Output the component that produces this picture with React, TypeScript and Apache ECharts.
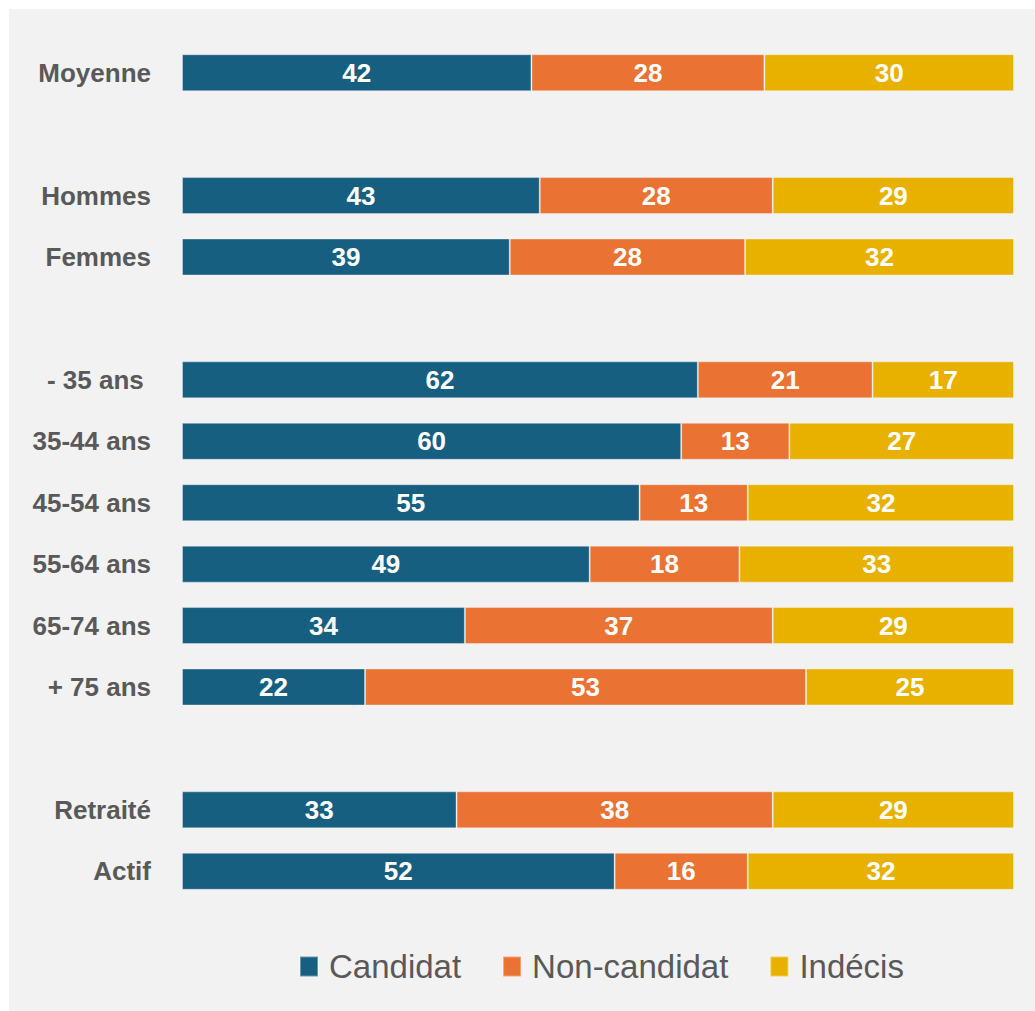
import React, { useEffect, useRef } from "react";
import * as echarts from "echarts";

const categories = [
  "Moyenne", "", "Hommes", "Femmes", "", "- 35 ans ", "35-44 ans", "45-54 ans",
  "55-64 ans", "65-74 ans", "+ 75 ans", "", "Retraité", "Actif",
];
const candidat = [42, null, 43, 39, null, 62, 60, 55, 49, 34, 22, null, 33, 52];
const nonCandidat = [28, null, 28, 28, null, 21, 13, 13, 18, 37, 53, null, 38, 16];
const indecis = [30, null, 29, 32, null, 17, 27, 32, 33, 29, 25, null, 29, 32];
const seriesNames = ["Candidat", "Non-candidat", "Indécis"];
const colors = ["#175f80", "#ea7233", "#e8b100"];

export default function App() {
  const ref = useRef<HTMLDivElement>(null);
  useEffect(() => {
    if (!ref.current) return;
    const chart = echarts.init(ref.current, undefined, { renderer: "svg" });
    const raw = [candidat, nonCandidat, indecis];
    const totals = categories.map((_, i) =>
      raw.reduce((s, arr) => s + (arr[i] ?? 0), 0)
    );
    const series = raw.map((arr, si) => ({
      name: seriesNames[si],
      type: "bar",
      stack: "total",
      barWidth: 37,
      itemStyle: {
        color: colors[si],
        borderColor: "rgba(255,255,255,0.35)",
        borderWidth: 1,
      },
      label: {
        show: true,
        position: "inside",
        color: "#ffffff",
        fontWeight: "bold",
        fontSize: 26,
        fontFamily: "Liberation Sans, Arial, sans-serif",
        formatter: (p: any) => (arr[p.dataIndex] == null ? "" : String(arr[p.dataIndex])),
      },
      data: arr.map((v, i) => (v == null ? null : (v / totals[i]) * 100)),
    }));
    chart.setOption({
      animation: false,
      backgroundColor: "#f2f2f2",
      legend: {
        left: 285,
        top: 936,
        itemWidth: 18,
        itemHeight: 20,
        itemGap: 41,
        icon: "rect",
        textStyle: {
          color: "#595959",
          fontSize: 33,
          padding: [0, 0, 0, 6],
          fontFamily: "Liberation Sans, Arial, sans-serif",
        },
        data: seriesNames,
      },
      grid: { left: 173, right: 21, top: 33, height: 860 },
      xAxis: { type: "value", min: 0, max: 100, show: false },
      yAxis: {
        type: "category",
        inverse: true,
        data: categories,
        axisLine: { show: false },
        axisTick: { show: false },
        splitLine: { show: false },
        axisLabel: {
          color: "#595959",
          fontWeight: "bold",
          fontSize: 26,
          fontFamily: "Liberation Sans, Arial, sans-serif",
          margin: 31,
        },
      },
      series,
    });
    return () => chart.dispose();
  }, []);
  return (
    <div
      ref={ref}
      style={{ position: "fixed", left: 9, top: 9, width: 1026, height: 1002 }}
    />
  );
}
